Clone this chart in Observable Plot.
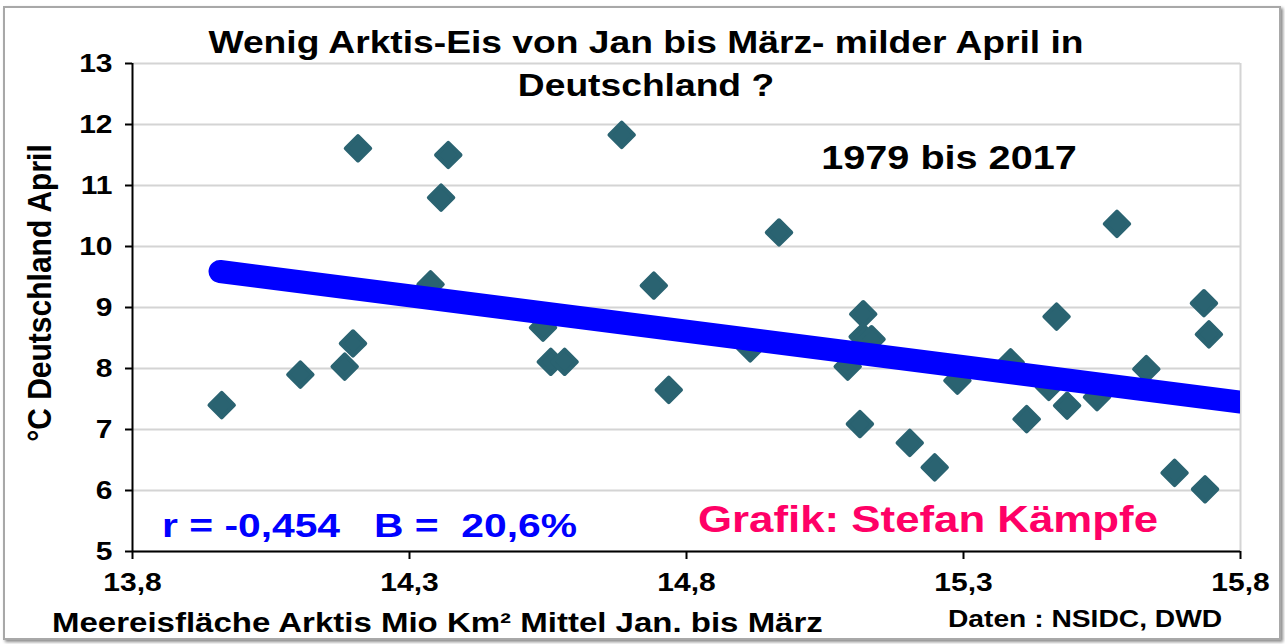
<!DOCTYPE html>
<html>
<head>
<meta charset="utf-8">
<script src="https://cdn.jsdelivr.net/npm/d3@7"></script>
<script src="https://cdn.jsdelivr.net/npm/@observablehq/plot@0.6"></script>
<style>
  html, body { margin: 0; padding: 0; background: #fff; }
  #wrap { position: relative; width: 1285px; height: 644px; overflow: hidden; font-family: "Liberation Sans", Arial, sans-serif; font-weight: bold; }
  #frame { position: absolute; left: 3px; top: 6px; width: 1274px; height: 630px; border: 2px solid #a8a8a8; box-shadow: 2px 2px 3px #8a8a8a; }
  .t { position: absolute; white-space: pre; line-height: 1; }
  svg { position: absolute; left: 0; top: 0; }
</style>
</head>
<body>
<div id="wrap">
  <div id="frame"></div>
</div>
<script>
// ---- data ----
const iceArea = [13.961, 14.103, 14.183, 14.198, 14.207, 14.370, 14.357, 14.338, 14.541, 14.555, 14.580, 14.683,
                 14.967, 14.741, 15.119, 15.118, 15.134, 15.091, 14.915, 14.768, 15.113, 15.203, 15.248, 15.289,
                 15.577, 15.468, 15.734, 15.743, 15.630, 15.487, 15.414, 15.681, 15.736, 15.385, 15.454, 15.541];
const aprilTemp = [7.40, 7.90, 8.03, 8.41, 11.61, 11.50, 10.80, 9.38, 8.67, 8.11, 8.11, 11.83,
                   10.23, 9.36, 8.89, 8.52, 8.48, 8.03, 8.33, 7.65, 7.09, 6.78, 6.38, 7.80,
                   10.37, 8.85, 9.07, 8.56, 7.99, 7.39, 7.17, 6.29, 6.02, 8.10, 7.70, 7.53];
const trendX = [13.958, 15.8];
const trendY = [9.59, 7.45];
const xTicks = [13.8, 14.3, 14.8, 15.3, 15.8];
const yTicks = [5, 6, 7, 8, 9, 10, 11, 12, 13];

const titleLines = ["Wenig Arktis-Eis von Jan bis März- milder April in", "Deutschland ?"];
const periodText = "1979 bis 2017";
const statsText = "r = -0,454   B =  20,6%";
const creditText = "Grafik: Stefan Kämpfe";
const xLabel = "Meereisfläche Arktis Mio Km² Mittel Jan. bis März";
const yLabel = "°C Deutschland April";
const sourceText = "Daten : NSIDC, DWD";

const points = iceArea.map((x, i) => ({x, y: aprilTemp[i]}));
const trend = trendX.map((x, i) => ({x, y: trendY[i]}));

const SX = 1.2; // horizontal stretch of lettering in the reference

const chart = Plot.plot({
  width: 1285,
  height: 644,
  marginLeft: 132,
  marginRight: 45,
  marginTop: 63,
  marginBottom: 93,
  style: {fontFamily: "'Liberation Sans', Arial, sans-serif", fontWeight: "bold", fontSize: "25px", color: "#000", background: "transparent"},
  x: {domain: [13.8, 15.8]},
  y: {domain: [5, 13]},
  marks: [
    Plot.gridY(yTicks, {stroke: "#d4d4d4", strokeOpacity: 1, strokeWidth: 2}),
    Plot.ruleX([15.8], {stroke: "#d4d4d4", strokeWidth: 2}),
    Plot.dot(points, {x: "x", y: "y", symbol: "diamond2", r: 11, fill: "#2a6371", stroke: "#2a6371", strokeWidth: 4, strokeLinejoin: "round"}),
    Plot.line(trend, {x: "x", y: "y", stroke: "#0000ff", strokeWidth: 23, strokeLinecap: "round", clip: true}),
    Plot.axisY(yTicks, {tickSize: 7, tickPadding: 13, strokeWidth: 2, label: null, fontSize: 25, fontWeight: "bold", fill: "#000",
      tickFormat: d => String(d)}),
    Plot.axisX(xTicks, {tickSize: 8, tickPadding: 14, strokeWidth: 2, label: null, fontSize: 25, fontWeight: "bold", fill: "#000",
      tickFormat: d => d.toFixed(1).replace(".", ",")}),
    Plot.ruleY([5], {stroke: "#000", strokeWidth: 2}),
    Plot.ruleX([13.8], {stroke: "#000", strokeWidth: 2})
  ]
});

// stretch tick label lettering horizontally around each label's anchor
chart.querySelectorAll('g[aria-label$="tick label"] text').forEach(t => {
  const tr = t.getAttribute("transform");
  if (tr) t.setAttribute("transform", tr + ` scale(${SX},1)`);
  else {
    const x = +t.getAttribute("x") || 0, y = +t.getAttribute("y") || 0;
    t.removeAttribute("x"); t.removeAttribute("y");
    t.setAttribute("transform", `translate(${x},${y}) scale(${SX},1)`);
  }
});

const wrap = document.getElementById("wrap");
wrap.appendChild(chart);

function addText(str, {left, width, top, size, color = "#000", align = "left", rotate = 0, stretch = SX}) {
  const d = document.createElement("div");
  d.className = "t";
  d.textContent = str;
  d.style.fontSize = size + "px";
  d.style.color = color;
  d.style.top = top + "px";
  if (align === "center") {
    d.style.left = (left - width / 2) + "px";
    d.style.width = width + "px";
    d.style.textAlign = "center";
    d.style.transformOrigin = "center center";
  } else {
    d.style.left = left + "px";
    d.style.transformOrigin = "left center";
  }
  d.style.transform = rotate ? `rotate(${rotate}deg) scaleY(${stretch})` : `scaleX(${stretch})`;
  wrap.appendChild(d);
  return d;
}
const base = (b, s) => b - 0.8465 * s;

addText(titleLines[0], {left: 646, width: 1000, top: base(53, 31), size: 31, align: "center"});
addText(titleLines[1], {left: 646, width: 1000, top: base(96, 31), size: 31, align: "center"});
addText(periodText, {left: 949, width: 400, top: base(169, 33), size: 33, align: "center"});
addText(statsText, {left: 162, top: base(537, 34), size: 34, color: "#0000ff"});
addText(creditText, {left: 698, top: base(533, 36.5), size: 36.5, color: "#ff0066"});
addText(xLabel, {left: 52, top: base(632, 27.5), size: 27.5});
addText(sourceText, {left: 948, top: base(628, 23.5), size: 23.5});
// rotated y label centered at (40, 293)
addText(yLabel, {left: 40, width: 400, top: 293 - 15, size: 30, align: "center", rotate: -90, stretch: 1.1});
</script>
</body>
</html>
